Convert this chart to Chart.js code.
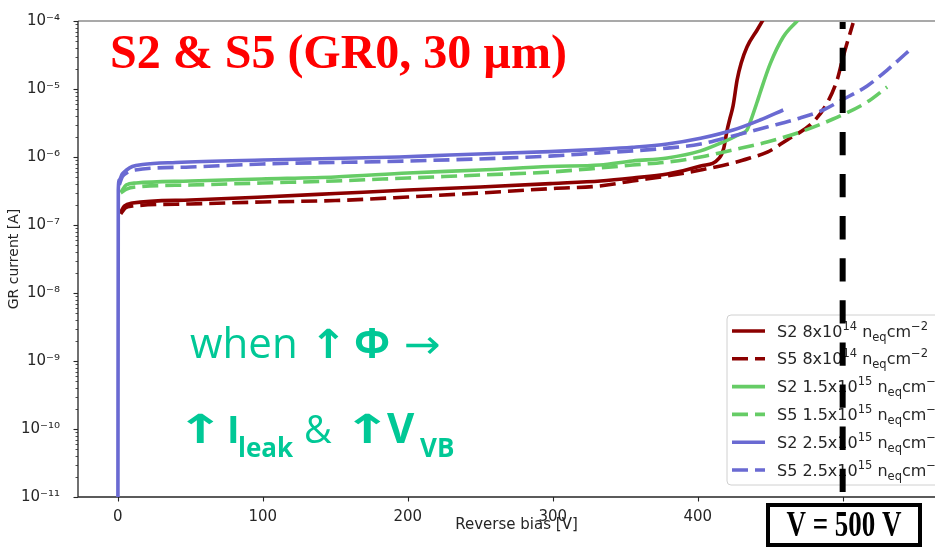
<!DOCTYPE html>
<html>
<head>
<meta charset="utf-8">
<script src="https://cdn.jsdelivr.net/npm/chart.js@4.4.1/dist/chart.umd.min.js"></script>
<style>
  html, body { margin: 0; padding: 0; background: #fff; overflow: hidden; width: 935px; height: 547px; }
  #wrap { position: relative; width: 970px; height: 547px; }
</style>
</head>
<body>
<div id="wrap"><canvas id="gr" width="970" height="547"></canvas></div>
<script>
// ---- Guard-ring (GR0) current vs reverse bias, sensors S2 and S5 ----
// Reverse bias [V]
const s2_8e14_V  = [2, 4.5, 10, 50, 100, 150, 200, 250, 300, 333, 355, 379, 402, 415, 418, 420.3, 422.3, 424.4, 427.2, 430, 434, 441, 445];
// GR current [A]
const s2_8e14_I  = [1.55e-7, 1.9e-7, 2.1e-7, 2.33e-7, 2.58e-7, 2.9e-7, 3.27e-7, 3.62e-7, 4.08e-7, 4.44e-7, 4.91e-7, 5.62e-7, 7.38e-7, 9.67e-7, 1.35e-6, 2.49e-6, 3.75e-6, 5.63e-6, 1.36e-5, 2.41e-5, 4.15e-5, 7.38e-5, 1.03e-4];

const s5_8e14_V  = [2, 5, 10, 50, 100, 150, 200, 250, 300, 332.5, 355, 379, 402, 424.4, 436, 448, 461.7, 479.7, 489.3, 496.2, 500.3, 507.2];
const s5_8e14_I  = [1.45e-7, 1.78e-7, 1.9e-7, 2.04e-7, 2.18e-7, 2.29e-7, 2.58e-7, 2.96e-7, 3.44e-7, 3.75e-7, 4.44e-7, 5.26e-7, 6.44e-7, 8.17e-7, 9.67e-7, 1.18e-6, 1.78e-6, 3.27e-6, 6.22e-6, 1.36e-5, 2.95e-5, 9.35e-5];

const s2_15e15_V = [2.2, 5.7, 12.6, 50, 99, 150, 200, 250, 298, 332.5, 355, 379, 402, 417.6, 429.3, 434, 436, 441, 443, 450, 459, 468.6, 472];
const s2_15e15_I = [3.05e-7, 3.87e-7, 4.15e-7, 4.44e-7, 4.75e-7, 5.08e-7, 5.82e-7, 6.43e-7, 7.25e-7, 7.62e-7, 8.73e-7, 9.67e-7, 1.23e-6, 1.66e-6, 2.18e-6, 2.49e-6, 3.16e-6, 6.44e-6, 8.73e-6, 2.34e-5, 5.82e-5, 1.0e-4, 1.2e-4];

const s5_15e15_V = [2, 6, 12, 50, 100, 150, 200, 250, 298, 332.5, 355, 379, 402, 424.4, 447.9, 470.7, 493.4, 516.9, 530.7];
const s5_15e15_I = [2.96e-7, 3.38e-7, 3.62e-7, 3.87e-7, 4.15e-7, 4.44e-7, 4.91e-7, 5.43e-7, 6.01e-7, 6.89e-7, 7.62e-7, 8.44e-7, 1.0e-6, 1.27e-6, 1.66e-6, 2.33e-6, 3.62e-6, 6.44e-6, 1.07e-5];

const s2_25e15_V = [0, 0.3, 1, 3, 6, 10, 17, 40, 100, 194, 229, 298, 332.5, 355, 379, 402, 424.4, 443, 459];
const s2_25e15_I = [1e-12, 3.27e-7, 4.59e-7, 5.62e-7, 6.44e-7, 7.25e-7, 7.76e-7, 8.3e-7, 9.04e-7, 1.0e-6, 1.07e-6, 1.2e-6, 1.3e-6, 1.39e-6, 1.55e-6, 1.88e-6, 2.49e-6, 3.5e-6, 4.91e-6];

const s5_25e15_V = [1, 3, 6, 12, 50, 100, 200, 298, 332.5, 355, 379, 402, 424.4, 447.9, 470.7, 486.6, 498.3, 516.9, 530.7, 548.6];
const s5_25e15_I = [3.9e-7, 5.08e-7, 5.82e-7, 6.44e-7, 7.13e-7, 7.89e-7, 8.73e-7, 1.03e-6, 1.15e-6, 1.23e-6, 1.35e-6, 1.55e-6, 2.04e-6, 2.76e-6, 3.75e-6, 4.91e-6, 6.67e-6, 1.11e-5, 1.9e-5, 4.15e-5];

// Axis ticks
const xTicks = [0, 100, 200, 300, 400, 500];
const yDecades = [-11, -10, -9, -8, -7, -6, -5, -4];

// Legend entries: sensor, fluence mantissa, fluence exponent
const legendSensors   = ['S2', 'S5', 'S2', 'S5', 'S2', 'S5'];
const legendMantissas = ['8x10', '8x10', '1.5x10', '1.5x10', '2.5x10', '2.5x10'];
const legendExponents = ['14', '14', '15', '15', '15', '15'];

// Operating point marker
const markerVoltage = 500;

const RED = '#8b0000', GREEN = '#66cc66', BLUE = '#6a6ad2', ANNOT = '#00c896';
const seriesColors = [RED, RED, GREEN, GREEN, BLUE, BLUE];
const seriesDashed = [false, true, false, true, false, true];
const DASH = [16, 7];

const SUP = { '-': '\u207b', '0': '\u2070', '1': '\u00b9', '2': '\u00b2', '3': '\u00b3', '4': '\u2074',
              '5': '\u2075', '6': '\u2076', '7': '\u2077', '8': '\u2078', '9': '\u2079' };
const toSup = s => s.split('').map(c => SUP[c] || c).join('');

// y ticks: every mantissa 1..9 within each decade (labelled only at the decades)
const yTickValues = [];
yDecades.forEach((e, i) => {
  if (i === yDecades.length - 1) { yTickValues.push(Math.pow(10, e)); return; }
  for (let k = 1; k <= 9; k++) yTickValues.push(k * Math.pow(10, e));
});
const isDecade = v => {
  const e = Math.round(Math.log10(v));
  return Math.abs(v / Math.pow(10, e) - 1) < 1e-6;
};

function series(idx, V, I) {
  return {
    label: legendSensors[idx] + ' ' + legendMantissas[idx] + legendExponents[idx],
    data: V.map((v, i) => ({ x: v, y: I[i] })),
    borderColor: seriesColors[idx],
    backgroundColor: seriesColors[idx],
    borderWidth: 3.6,
    borderDash: seriesDashed[idx] ? DASH : [],
    borderCapStyle: 'butt',
    pointRadius: 0,
    fill: false,
    cubicInterpolationMode: 'monotone',
    clip: 0,
    order: 6 - idx
  };
}

const datasets = [
  series(0, s2_8e14_V, s2_8e14_I),
  series(1, s5_8e14_V, s5_8e14_I),
  series(2, s2_15e15_V, s2_15e15_I),
  series(3, s5_15e15_V, s5_15e15_I),
  series(4, s2_25e15_V, s2_25e15_I),
  series(5, s5_25e15_V, s5_25e15_I)
];

// draws a glyph stretched horizontally about its left edge
function wideText(ctx, t, x, y, sx) {
  ctx.save();
  ctx.translate(x, y);
  ctx.scale(sx, 1);
  ctx.fillText(t, 0, 0);
  ctx.restore();
}

// Frame, tick marks, legend and slide annotations
const decor = {
  id: 'decor',
  beforeDatasetsDraw(chart) {
    const { ctx, chartArea: a, scales: { x, y } } = chart;
    ctx.save();
    // top frame line
    ctx.strokeStyle = '#a9a9a9';
    ctx.lineWidth = 2;
    ctx.beginPath(); ctx.moveTo(a.left, a.top); ctx.lineTo(a.right, a.top); ctx.stroke();
    // left and bottom spines
    ctx.strokeStyle = '#262626';
    ctx.lineWidth = 1.3;
    ctx.beginPath();
    ctx.moveTo(a.left, a.top); ctx.lineTo(a.left, a.bottom); ctx.lineTo(a.right, a.bottom);
    ctx.stroke();
    // x ticks
    ctx.lineWidth = 1.1;
    xTicks.forEach(v => {
      const px = Math.round(x.getPixelForValue(v)) + 0.5;
      ctx.beginPath(); ctx.moveTo(px, a.bottom); ctx.lineTo(px, a.bottom + 4.5); ctx.stroke();
    });
    // y ticks (major and minor)
    yTickValues.forEach(v => {
      const py = Math.round(y.getPixelForValue(v)) + 0.5;
      const len = isDecade(v) ? 4.5 : 2.5;
      ctx.lineWidth = isDecade(v) ? 1.1 : 0.8;
      ctx.beginPath(); ctx.moveTo(a.left - len, py); ctx.lineTo(a.left, py); ctx.stroke();
    });
    ctx.restore();
  },
  afterDatasetsDraw(chart) {
    const { ctx, chartArea: a, scales: { x } } = chart;
    ctx.save();

    // ---- legend ----
    const lx = 727, ly = 315, lw = 226, lh = 170, r = 4;
    ctx.beginPath();
    ctx.moveTo(lx + r, ly);
    ctx.arcTo(lx + lw, ly, lx + lw, ly + lh, r);
    ctx.arcTo(lx + lw, ly + lh, lx, ly + lh, r);
    ctx.arcTo(lx, ly + lh, lx, ly, r);
    ctx.arcTo(lx, ly, lx + lw, ly, r);
    ctx.closePath();
    ctx.fillStyle = 'rgba(255,255,255,0.85)';
    ctx.fill();
    ctx.strokeStyle = '#d0d0d0';
    ctx.lineWidth = 1;
    ctx.stroke();

    const rowY0 = 331, rowStep = 27.8;
    legendSensors.forEach((s, i) => {
      const cy = rowY0 + i * rowStep;
      // handle
      ctx.strokeStyle = seriesColors[i];
      ctx.lineWidth = 3.6;
      ctx.lineCap = 'butt';
      ctx.setLineDash(seriesDashed[i] ? DASH : []);
      ctx.beginPath(); ctx.moveTo(lx + 5, cy); ctx.lineTo(lx + 38, cy); ctx.stroke();
      ctx.setLineDash([]);
      // label with super/subscripts
      const base = cy + 5.5;
      let tx = 777;
      ctx.fillStyle = '#262626';
      ctx.textBaseline = 'alphabetic';
      ctx.textAlign = 'left';
      const main = '16px "DejaVu Sans"', small = '11.5px "DejaVu Sans"';
      const put = (t, font, dy) => { ctx.font = font; ctx.fillText(t, tx, base + dy); tx += ctx.measureText(t).width; };
      put(s + ' ' + legendMantissas[i], main, 0);
      put(legendExponents[i], small, -7);
      put(' n', main, 0);
      put('eq', small, 4);
      put('cm', main, 0);
      put('\u22122', small, -7);
    });

    // ---- vertical marker line ----
    const mx = x.getPixelForValue(markerVoltage);
    ctx.strokeStyle = '#000';
    ctx.lineWidth = 6;
    ctx.setLineDash([23.3, 18.8]);
    ctx.lineDashOffset = 16.4;
    ctx.beginPath(); ctx.moveTo(mx, a.top + 1); ctx.lineTo(mx, a.bottom); ctx.stroke();
    ctx.setLineDash([]);
    ctx.lineDashOffset = 0;

    // ---- boxed voltage label ----
    ctx.fillStyle = '#fff';
    ctx.fillRect(768, 505, 152, 42);
    ctx.strokeStyle = '#000';
    ctx.lineWidth = 4;
    ctx.strokeRect(768, 505, 152, 40);
    ctx.save();
    ctx.translate(844, 536);
    ctx.scale(0.75, 1);
    ctx.fillStyle = '#000';
    ctx.font = 'bold 36px "Liberation Serif"';
    ctx.textAlign = 'center';
    ctx.fillText('V = ' + markerVoltage + ' V', 0, 0);
    ctx.restore();

    // ---- sensor / guard-ring title ----
    ctx.fillStyle = '#ff0000';
    ctx.font = 'bold 48px "Liberation Serif"';
    ctx.textAlign = 'left';
    ctx.fillText('S2 & S5 (GR0, 30 \u00b5m)', 110, 68);

    // ---- trend annotation ----
    ctx.fillStyle = ANNOT;
    ctx.font = '42px "Open Sans"';
    ctx.fillText('when', 190, 358);
    ctx.font = 'bold 40px "DejaVu Sans"';
    wideText(ctx, '\u2191', 310, 358, 1.1);
    ctx.font = 'bold 42px "Open Sans"';
    ctx.fillText('\u03a6', 354, 358);
    ctx.font = '40px "DejaVu Sans"';
    wideText(ctx, '\u2192', 404, 358, 1.1);

    ctx.font = 'bold 40px "DejaVu Sans"';
    wideText(ctx, '\u2191', 176, 443, 1.45);
    ctx.font = 'bold 38px "Open Sans"';
    ctx.fillText('I', 227, 443);
    ctx.font = 'bold 26px "Open Sans"';
    ctx.fillText('leak', 238, 457);
    ctx.font = '38px "Open Sans"';
    ctx.fillText('&', 304, 443);
    ctx.font = 'bold 40px "DejaVu Sans"';
    wideText(ctx, '\u2191', 343, 443, 1.45);
    ctx.font = 'bold 42px "Open Sans"';
    ctx.fillText('V', 387, 443);
    ctx.font = 'bold 26px "Open Sans"';
    ctx.fillText('VB', 420, 457);

    ctx.restore();
  }
};

new Chart(document.getElementById('gr'), {
  type: 'line',
  data: { datasets },
  plugins: [decor],
  options: {
    responsive: false,
    animation: false,
    devicePixelRatio: 1,
    layout: { padding: { left: 0, right: 15, top: 21, bottom: 0 } },
    plugins: { legend: { display: false }, tooltip: { enabled: false } },
    scales: {
      x: {
        type: 'linear',
        min: -27.5,
        max: 577.5,
        grid: { display: false },
        border: { display: false },
        afterBuildTicks: s => { s.ticks = xTicks.map(v => ({ value: v })); },
        afterFit: s => { s.height = 50; },
        ticks: {
          autoSkip: false, maxRotation: 0, padding: 3,
          color: '#262626',
          font: { family: 'DejaVu Sans', size: 15 },
          callback: v => String(v)
        },
        title: {
          display: true, text: 'Reverse bias [V]', color: '#262626',
          font: { family: 'DejaVu Sans', size: 15 },
          padding: { top: 0, bottom: 13 }
        }
      },
      y: {
        type: 'logarithmic',
        min: 1e-11,
        max: 1e-4,
        grid: { display: false },
        border: { display: false },
        afterBuildTicks: s => { s.ticks = yTickValues.map(v => ({ value: v })); },
        afterFit: s => { s.width = 78; },
        ticks: {
          autoSkip: false, padding: 10,
          color: '#262626',
          font: { family: 'DejaVu Sans', size: 15 },
          callback: v => isDecade(v) ? '10' + toSup(String(Math.round(Math.log10(v)))) : ''
        },
        title: {
          display: true, text: 'GR current [A]', color: '#262626',
          font: { family: 'DejaVu Sans', size: 14 },
          padding: { top: 6, bottom: 0 }
        }
      }
    }
  }
});
</script>
</body>
</html>
